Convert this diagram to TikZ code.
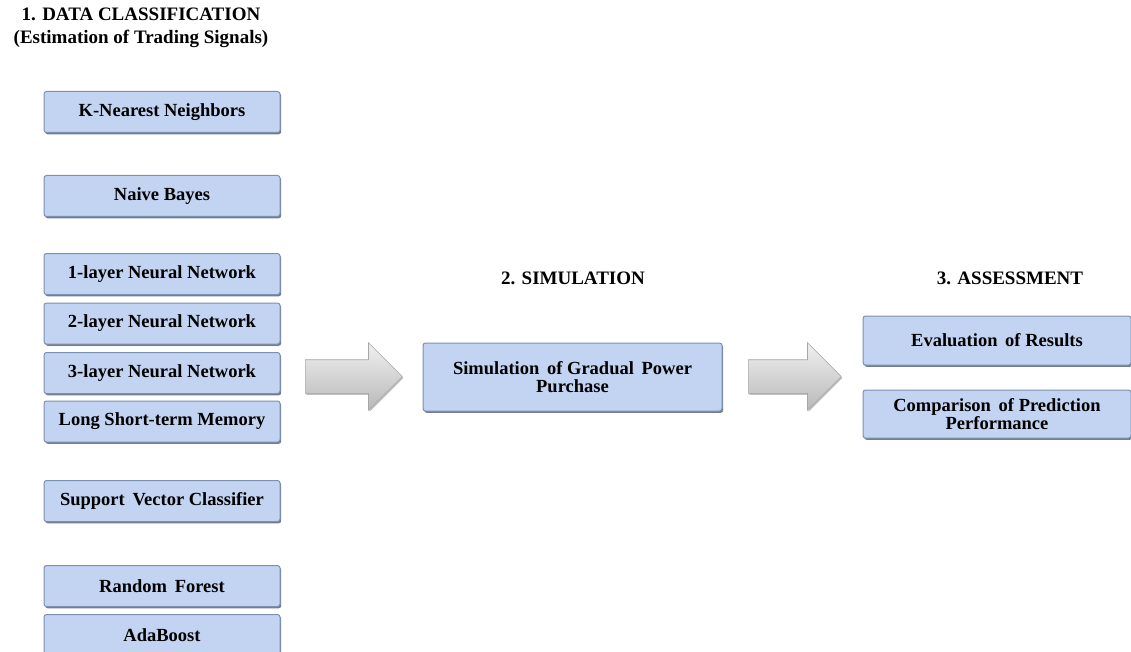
\documentclass[tikz,border=0pt]{standalone}
\usepackage{fontspec}
\setmainfont{Liberation Serif}
\usetikzlibrary{shapes.arrows,shadows}
\definecolor{boxfill}{HTML}{C2D4F1}
\definecolor{boxedge}{HTML}{7E90B0}
\definecolor{boxdark}{HTML}{4F5D75}
\begin{document}
\begin{tikzpicture}[x=1pt,y=-1pt,
  txt/.style={font=\fontsize{18.5}{18.5}\selectfont\bfseries, align=center},
  ttl/.style={font=\fontsize{19}{23}\selectfont\bfseries, align=center, inner sep=0},
  mbox/.style={txt, fill=boxfill, draw=boxedge, line width=1pt, rounded corners=2.5pt, inner sep=0,
     drop shadow={shadow xshift=1.2pt, shadow yshift=-1.8pt, fill=boxdark, opacity=0.8}},
  lbox/.style={mbox, minimum width=236, minimum height=41},
  garrow/.style={single arrow, single arrow head extend=17, single arrow head indent=0,
     minimum width=67, inner xsep=0, inner ysep=16.5, top color=gray!12, bottom color=gray!55, draw=gray!70, line width=0.6pt,
     anchor=tail,
     drop shadow={shadow xshift=1pt, shadow yshift=-1.5pt, fill=black!50, opacity=0.5}}]
\useasboundingbox (0,0) rectangle (1131,652);

\node[ttl] (t1) at (141,28) {1. DATA CLASSIFICATION\\(Estimation of Trading Signals)};
\node[ttl] (t2) at (573,278) {2. SIMULATION};
\node[ttl] (t3) at (1010,278) {3. ASSESSMENT};

\node[lbox] (knn) at (162,112) {K-Nearest Neighbors};
\node[lbox] (nb) at (162,196) {Naive Bayes};
\node[lbox] (nn1) at (162,274) {1-layer Neural Network};
\node[lbox] (nn2) at (162,323.5) {2-layer Neural Network};
\node[lbox] (nn3) at (162,373) {3-layer Neural Network};
\node[lbox] (lstm) at (162,421.5) {Long Short-term Memory};
\node[lbox] (svc) at (162,501) {Support\, Vector Classifier};
\node[lbox] (rf) at (162,586) {Random\, Forest};
\node[lbox] (ada) at (162,635) {AdaBoost};

\node[garrow, minimum height=97] (a1) at (305,376.5) {};
\node[mbox, minimum width=299, minimum height=68] (sim) at (572.5,377) {Simulation\, of Gradual\, Power\\Purchase};
\node[garrow, minimum height=93] (a2) at (748,376.5) {};

\node[mbox, minimum width=268, minimum height=49] (eval) at (997,340.5) {Evaluation\, of Results};
\node[mbox, minimum width=268, minimum height=48] (comp) at (997,414) {Comparison\, of Prediction\\Performance};
\end{tikzpicture}
\end{document}
